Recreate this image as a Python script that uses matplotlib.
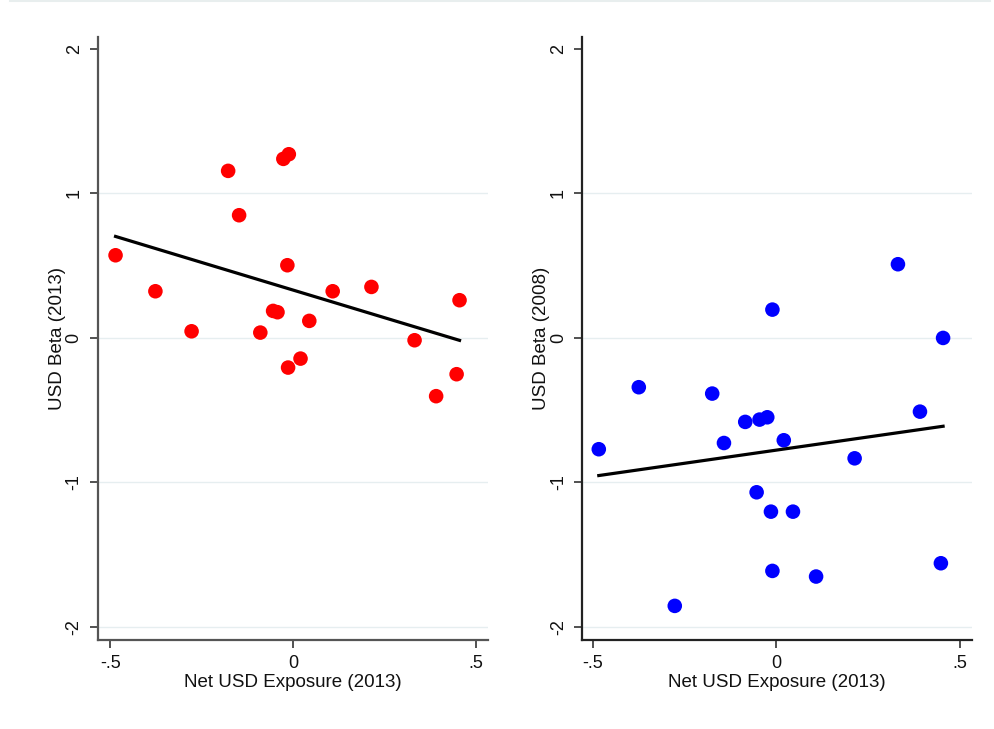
import numpy as np
import matplotlib
matplotlib.use("Agg")
import matplotlib.pyplot as plt
from matplotlib.lines import Line2D

plt.rcParams['font.family'] = ['Liberation Sans', 'DejaVu Sans']

# Left panel: USD Beta (2013) vs Net USD Exposure (2013)
x_left = [-0.486, -0.377, -0.278, -0.178, -0.148, -0.090, -0.055, -0.043, -0.027, -0.016,
          -0.014, -0.012, 0.020, 0.044, 0.108, 0.214, 0.332, 0.391, 0.447, 0.455]
y_left = [0.572, 0.323, 0.046, 1.156, 0.849, 0.037, 0.187, 0.178, 1.239, 0.503,
          -0.205, 1.271, -0.143, 0.118, 0.323, 0.353, -0.016, -0.403, -0.251, 0.261]

# Right panel: USD Beta (2008) vs Net USD Exposure (2013)
x_right = [-0.483, -0.374, -0.276, -0.174, -0.142, -0.084, -0.053, -0.045, -0.024, -0.014,
           -0.010, -0.010, 0.021, 0.046, 0.109, 0.214, 0.332, 0.392, 0.449, 0.455]
y_right = [-0.770, -0.341, -1.854, -0.385, -0.727, -0.581, -1.068, -0.565, -0.549, -1.202,
           0.196, -1.612, -0.708, -1.202, -1.651, -0.833, 0.510, -0.510, -1.559, 0.0]

y_ticks = [-2, -1, 0, 1, 2]
y_ticklabels = ["-2", "-1", "0", "1", "2"]
x_ticks = [-0.5, 0, 0.5]
x_ticklabels = ["-.5", "0", ".5"]

fig = plt.figure(figsize=(9.95, 7.29), dpi=100)
fig.patch.set_facecolor("white")
fig.add_artist(Line2D([0.01, 0.995], [0.9985, 0.9985], transform=fig.transFigure,
                      color="#e8eeee", lw=1.5))

panels = [
    dict(rect=[0.0985, 0.1221, 0.392, 0.8267], x=x_left, y=y_left, color="#ff0000",
         ylabel="USD Beta (2013)", xlim=(-0.534, 0.533), spine="#555555"),
    dict(rect=[0.5852, 0.1221, 0.3914, 0.8267], x=x_right, y=y_right, color="#0000ff",
         ylabel="USD Beta (2008)", xlim=(-0.528, 0.533), spine="#222222"),
]

for p in panels:
    ax = fig.add_axes(p["rect"])
    x = np.array(p["x"]); y = np.array(p["y"])
    for gy in y_ticks[:-1]:
        ax.axhline(gy, color="#e6eef0", lw=1.0, zorder=0)
    ax.scatter(x, y, s=110, color=p["color"], edgecolors="none", zorder=3)
    b, a = np.polyfit(x, y, 1)
    xs = np.array([x.min(), x.max()])
    ax.plot(xs, a + b * xs, color="black", lw=2.3, zorder=4)
    ax.set_xlim(*p["xlim"])
    ax.set_ylim(-2.09, 2.08)
    ax.set_yticks(y_ticks)
    ax.set_yticklabels(y_ticklabels, rotation=90, va="center")
    ax.set_xticks(x_ticks)
    ax.set_xticklabels(x_ticklabels)
    ax.tick_params(axis="both", labelsize=13, length=6, width=1.2, color="#333333",
                   labelcolor="#111111", pad=5)
    for s in ["top", "right"]:
        ax.spines[s].set_visible(False)
    for s in ["left", "bottom"]:
        ax.spines[s].set_color(p["spine"])
        ax.spines[s].set_linewidth(1.6)
    ax.set_xlabel("Net USD Exposure (2013)", fontsize=13.5, color="#111111", labelpad=1)
    ax.set_ylabel(p["ylabel"], fontsize=13.5, color="#111111", labelpad=0)

fig.savefig("out.png", dpi=100, facecolor="white")
